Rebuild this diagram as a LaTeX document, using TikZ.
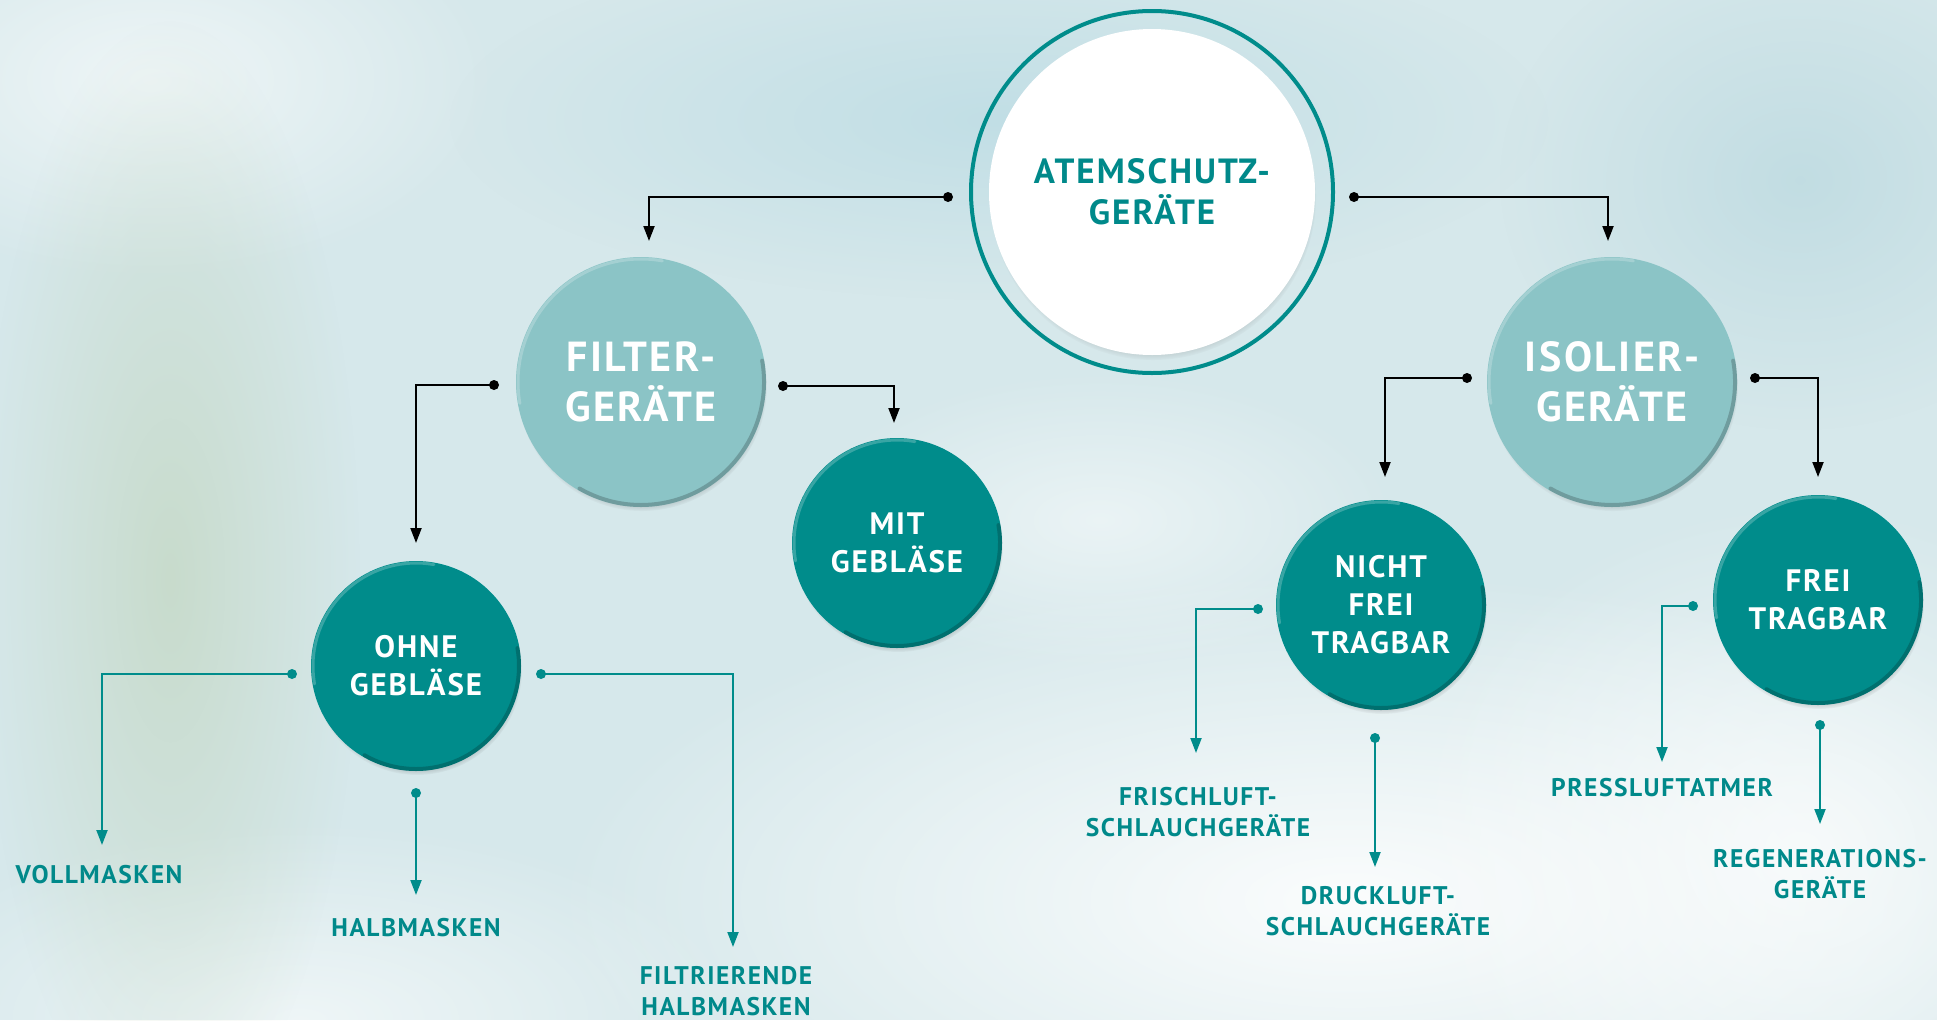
\documentclass[tikz,border=0pt]{standalone}
\usepackage{fontspec}
\setmainfont{PT Sans}[LetterSpace=6]
\usetikzlibrary{arrows.meta,fadings,shadows}
\definecolor{tealdark}{HTML}{008C8B}
\definecolor{teallight}{HTML}{8BC4C6}
\definecolor{tealtext}{HTML}{00898A}
\definecolor{bgbase}{HTML}{D6E8EB}
\definecolor{bggreen}{HTML}{C2D6BF}
\definecolor{bgblue}{HTML}{BCDCE4}
\definecolor{bgblueb}{HTML}{B9D8DF}
\tikzfading[name=softglow, inner color=transparent!0, outer color=transparent!100]
\tikzset{
  bigcirc/.style={circle, fill=teallight, minimum size=250pt, inner sep=0pt, text=white,
    font=\bfseries\fontsize{42}{50}\selectfont, align=center,
    circular drop shadow={shadow xshift=1pt, shadow yshift=-4pt, shadow scale=1, opacity=.6, fill=black!70}},
  midcirc/.style={circle, fill=tealdark, minimum size=210pt, inner sep=0pt, text=white,
    font=\bfseries\fontsize{31}{38}\selectfont, align=center,
    circular drop shadow={shadow xshift=1pt, shadow yshift=-4pt, shadow scale=1, opacity=.6, fill=black!70}},
  leaf/.style={text=tealtext, font=\bfseries\fontsize{25.5}{31}\selectfont, align=center, inner sep=0pt},
  dotb/.style={circle, fill=black, inner sep=0pt, minimum size=10pt},
  dott/.style={circle, fill=tealdark, inner sep=0pt, minimum size=10pt},
  connb/.style={draw=black, line width=2pt, -{Triangle[length=15pt,width=11pt]}},
  connt/.style={draw=tealdark, line width=2pt, -{Triangle[length=15pt,width=11pt]}},
  glow/.style={path fading=softglow},
  rimlight/.style={draw=white, opacity=.22, line width=3pt, line cap=round},
  rimdark/.style={draw=black, opacity=.2, line width=4pt, line cap=round}
}
\newcommand\bubblerim[2]{%
  \draw[rimlight] ([shift={(170:#2)}]#1.center) arc[start angle=170, end angle=280, radius=#2];
  \draw[rimdark] ([shift={(350:#2)}]#1.center) arc[start angle=-10, end angle=120, radius=#2];
}
\begin{document}
\begin{tikzpicture}[x=1pt,y=-1pt]
\useasboundingbox (0,0) rectangle (1937,1020);
% background
\fill[bgbase] (0,0) rectangle (1937,1020);
\begin{scope}
\clip (0,0) rectangle (1937,1020);
\fill[white, glow, opacity=.9] (1350,900) ellipse (800 and 330);
\fill[white, glow, opacity=.7] (1800,850) ellipse (400 and 350);
\fill[white, glow, opacity=.6] (300,1020) ellipse (450 and 200);
\fill[white, glow, opacity=.6] (150,80) ellipse (350 and 200);
\fill[bggreen, glow, opacity=.7] (170,580) ellipse (190 and 560);
\fill[bgblue, glow, opacity=.8] (1000,120) ellipse (550 and 180);
\fill[bgblueb, glow, opacity=.7] (1800,180) ellipse (300 and 250);
\fill[white, glow, opacity=.5] (1100,520) ellipse (300 and 150);
\end{scope}

% top circle
\node[circle, draw=tealdark, line width=4pt, minimum size=362pt, inner sep=0pt] (ring) at (1152,192) {};
\node[circle, fill=white, minimum size=326pt, inner sep=0pt, text=tealtext,
  font=\bfseries\fontsize{35}{41}\selectfont, align=center,
  circular drop shadow={shadow xshift=1pt, shadow yshift=-5pt, shadow scale=1, opacity=.6, fill=black!60}] (atem) at (1152,192) {ATEMSCHUTZ-\\GERÄTE};

% level 2
\node[bigcirc] (filter) at (641,382) {FILTER-\\GERÄTE};
\node[bigcirc] (isolier) at (1612,382) {ISOLIER-\\GERÄTE};

% level 3
\node[midcirc] (mit) at (897,543) {MIT\\GEBLÄSE};
\node[midcirc] (ohne) at (416,666) {OHNE\\GEBLÄSE};
\node[midcirc] (nicht) at (1381,605) {NICHT\\FREI\\TRAGBAR};
\node[midcirc] (frei) at (1818,600) {FREI\\TRAGBAR};

\bubblerim{filter}{123}
\bubblerim{isolier}{123}
\bubblerim{mit}{103}
\bubblerim{ohne}{103}
\bubblerim{nicht}{103}
\bubblerim{frei}{103}

% leaves
\node[leaf] (voll) at (99,875) {VOLLMASKEN};
\node[leaf] (halb) at (416,928) {HALBMASKEN};
\node[leaf] (filtr) at (726,991) {FILTRIERENDE\\HALBMASKEN};
\node[leaf] (frisch) at (1198,812) {FRISCHLUFT-\\SCHLAUCHGERÄTE};
\node[leaf] (druck) at (1378,911) {DRUCKLUFT-\\SCHLAUCHGERÄTE};
\node[leaf] (press) at (1662,788) {PRESSLUFTATMER};
\node[leaf] (regen) at (1820,874) {REGENERATIONS-\\GERÄTE};

% connector dots
\node[dotb] (d1) at (948,197) {};
\node[dotb] (d2) at (1354,197) {};
\node[dotb] (d3) at (494,385) {};
\node[dotb] (d4) at (783,386) {};
\node[dotb] (d5) at (1467,378) {};
\node[dotb] (d6) at (1755,378) {};
\node[dott] (e1) at (292,674) {};
\node[dott] (e2) at (416,793) {};
\node[dott] (e3) at (541,674) {};
\node[dott] (e4) at (1258,609) {};
\node[dott] (e5) at (1375,738) {};
\node[dott] (e6) at (1693,606) {};
\node[dott] (e7) at (1820,725) {};

% arrow ends
\coordinate (t1) at (649,241);
\coordinate (t2) at (1608,241);
\coordinate (t3) at (416,543);
\coordinate (t4) at (894,423);
\coordinate (t5) at (1385,477);
\coordinate (t6) at (1818,477);
\coordinate (u1) at (102,845);
\coordinate (u2) at (416,895);
\coordinate (u3) at (733,947);
\coordinate (u4) at (1196,753);
\coordinate (u5) at (1375,867);
\coordinate (u6) at (1662,762);
\coordinate (u7) at (1820,824);

% connectors
\draw[connb] (d1.center) -| (t1);
\draw[connb] (d2.center) -| (t2);
\draw[connb] (d3.center) -| (t3);
\draw[connb] (d4.center) -| (t4);
\draw[connb] (d5.center) -| (t5);
\draw[connb] (d6.center) -| (t6);
\draw[connt] (e1.center) -| (u1);
\draw[connt] (e2.center) -- (u2);
\draw[connt] (e3.center) -| (u3);
\draw[connt] (e4.center) -| (u4);
\draw[connt] (e5.center) -- (u5);
\draw[connt] (e6.center) -| (u6);
\draw[connt] (e7.center) -- (u7);
\end{tikzpicture}
\end{document}
